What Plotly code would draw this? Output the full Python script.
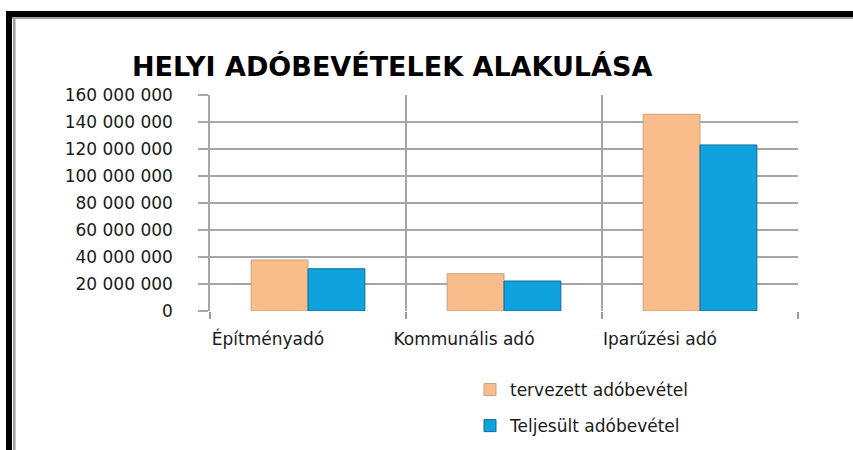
import plotly.graph_objects as go

categories = ["Építményadó", "Kommunális adó", "Iparűzési adó"]
planned = [37800000, 27600000, 145700000]
actual = [31300000, 22200000, 123000000]
series_names = ["tervezett adóbevétel", "Teljesült adóbevétel"]
title_text = "HELYI ADÓBEVÉTELEK ALAKULÁSA"

W, H = 853, 450
def px(x):
    return x / W
def py(y):
    return 1 - y / H

FONT = "DejaVu Sans"
TXT = "#1a1a1a"

fig = go.Figure()
fig.add_trace(go.Bar(
    x=categories, y=planned, name=series_names[0], legendgroup="a",
    marker=dict(color="#F9BD8B", line=dict(color="#C9A27E", width=1)),
))
fig.add_trace(go.Bar(
    x=categories, y=actual, name=series_names[1], legendgroup="b",
    marker=dict(color="#10A2DD", line=dict(color="#0A6C9A", width=1)),
))

fig.update_layout(
    width=W, height=H,
    margin=dict(l=0, r=0, t=0, b=0, autoexpand=False),
    paper_bgcolor="white", plot_bgcolor="white",
    separators=", ",
    barmode="group", bargap=0.42, bargroupgap=0,
    font=dict(family=FONT, size=17, color=TXT),
    showlegend=True,
    legend=dict(
        x=px(470), y=py(372), xanchor="left", yanchor="top",
        font=dict(family=FONT, size=17, color=TXT),
        traceorder="grouped", tracegroupgap=11,
        itemwidth=30,
        bgcolor="rgba(0,0,0,0)",
    ),
    xaxis=dict(
        domain=[px(210), px(798)],
        tickson="boundaries", ticks="outside", ticklen=7,
        tickcolor="#999999", tickwidth=1.5,
        showgrid=True, gridcolor="#a6a6a6", gridwidth=1.5,
        showline=False, zeroline=False,
        tickfont=dict(family=FONT, size=17, color=TXT),
        ticklabelshift=-40, ticklabelstandoff=16,
    ),
    yaxis=dict(
        domain=[py(311), py(95)],
        range=[0, 160000000], dtick=20000000, tickformat=",d",
        ticks="outside", ticklen=10, tickcolor="#a6a6a6", tickwidth=1.5,
        showgrid=True, gridcolor="#a6a6a6", gridwidth=1.5,
        showline=True, linecolor="#a6a6a6", linewidth=1.5,
        zeroline=False,
        tickfont=dict(family=FONT, size=17, color=TXT),
        ticklabelstandoff=22,
    ),
    annotations=[dict(
        text="<b>" + title_text + "</b>", x=px(392), y=py(66),
        xref="paper", yref="paper", xanchor="center", yanchor="middle",
        showarrow=False, font=dict(family=FONT, size=27, color="#000000"),
    )],
    shapes=[
        dict(type="rect", xref="paper", yref="paper", x0=px(6), x1=1, y0=py(17), y1=py(11),
             fillcolor="black", line=dict(width=0), layer="above"),
        dict(type="rect", xref="paper", yref="paper", x0=px(6), x1=px(12), y0=0, y1=py(11),
             fillcolor="black", line=dict(width=0), layer="above"),
        dict(type="rect", xref="paper", yref="paper", x0=px(12), x1=1, y0=py(19), y1=py(17),
             fillcolor="#a0a0a0", line=dict(width=0), layer="above"),
        dict(type="rect", xref="paper", yref="paper", x0=px(13), x1=px(15.5), y0=0, y1=py(17),
             fillcolor="#a0a0a0", line=dict(width=0), layer="above"),
    ],
)

fig.write_html(
    "out.html",
    config={"displayModeBar": False},
    post_script="document.body.style.margin='0';document.body.style.overflow='hidden';",
)
